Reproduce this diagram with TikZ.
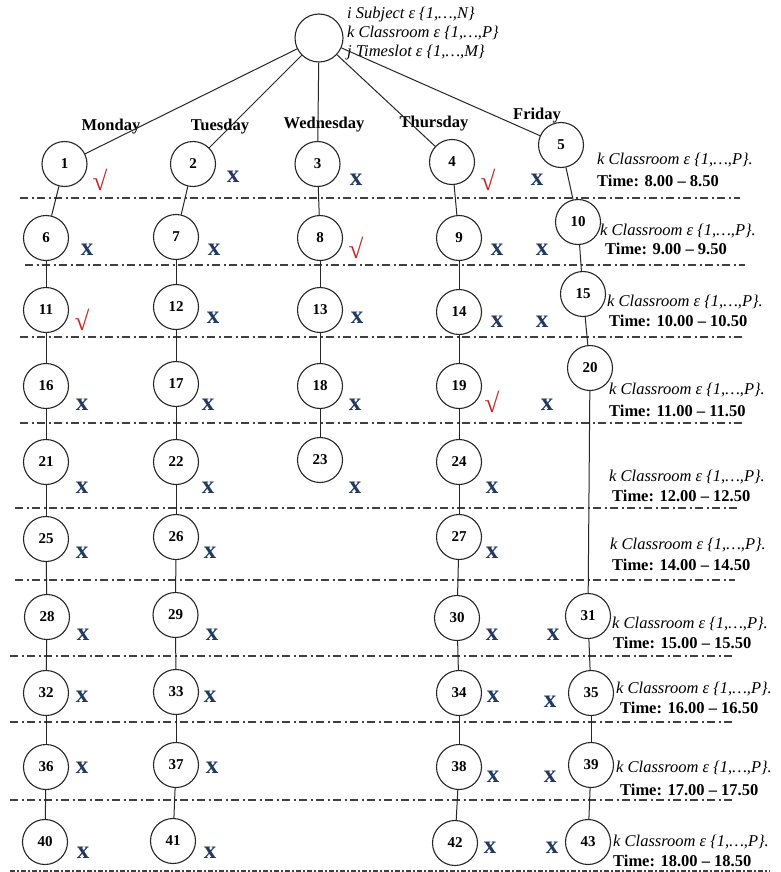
\documentclass[tikz,border=0pt]{standalone}
\usepackage{fontspec}
\setmainfont{Liberation Serif}
\definecolor{crossblue}{RGB}{34,58,98}
\definecolor{tickred}{RGB}{190,40,40}
\begin{document}
\begin{tikzpicture}[x=1pt,y=-1pt]
\tikzset{
  slot/.style={circle, draw=black!85, fill=white, line width=1.1pt, minimum size=45pt,
    inner sep=0pt, font=\fontsize{15}{15}\selectfont\bfseries},
  link/.style={line width=1pt, black!85},
  sepline/.style={line width=1.4pt, black!75, dash pattern=on 8pt off 3.5pt on 2pt off 3.5pt},
  day/.style={inner sep=0pt, font=\fontsize{16.5}{16.5}\selectfont\bfseries},
  room/.style={anchor=west, inner sep=0pt, font=\fontsize{16.5}{16.5}\selectfont\itshape},
  tlabel/.style={anchor=west, inner sep=0pt, font=\fontsize{16.5}{16.5}\selectfont\bfseries},
  cross/.style={inner sep=0pt, text=crossblue, font=\fontsize{25}{25}\selectfont\bfseries},
  tick/.style={inner sep=0pt, text=tickred, font=\fontsize{27}{27}\selectfont},
}
\useasboundingbox (0,0) rectangle (780,872);
\fill[white] (0,0) rectangle (780,872);

% time-slot separators
\foreach \y/\xa/\xb in {198/20/740, 265/25/745, 337/20/745, 423/20/742, 508/15/740,
                        580/15/735, 656/10/735, 722/10/732, 800/10/735}
  \draw[sepline] (\xa,\y) -- (\xb,\y);
\draw[line width=2pt, black!75, dash pattern=on 5pt off 2pt on 2pt off 2pt] (10,871) -- (770,871);

% root and its index sets
\node[slot, minimum size=48pt] (root) at (319,38) {};
\node[anchor=west, align=left, inner sep=0pt, font=\fontsize{16.5}{19}\selectfont\itshape]
  (vars) at (347,34) {i Subject ε \{1,…,N\}\\ k Classroom ε \{1,…,P\}\\ j Timeslot ε \{1,…,M\}};

% slot nodes
\foreach \n/\x/\y in {
   1/64.5/164, 2/193/164, 3/317.5/164, 4/452/162, 5/561/145,
   6/46/238, 7/176/237, 8/320/238, 9/459/238, 10/578/222,
   11/46/310, 12/176/307, 13/320/310, 14/459/312, 15/583/294,
   16/46/386, 17/176/384, 18/320/386, 19/459/386, 20/590/368,
   21/46/462, 22/176/462, 23/320/460, 24/459/462,
   25/46/539, 26/176/537, 27/459/537,
   28/47/617, 29/175.5/615, 30/457/618, 31/588/616,
   32/46/693, 33/176/692, 34/459/693, 35/591/693,
   36/46/767, 37/176/765, 38/459/767, 39/591/765,
   40/45/842, 41/173/841, 42/455/843, 43/588/842}
  \node[slot] (s\n) at (\x,\y) {\n};

% day names
\node[day] (mon) at (111,127) {Monday};
\node[day] (tue) at (220,127) {Tuesday};
\node[day] (wed) at (324,125) {Wednesday};
\node[day] (thu) at (434,124) {Thursday};
\node[day] (fri) at (537,116) {Friday};

% connectors
\foreach \a/\b in {root/s1, root/s2, root/s3, root/s4, root/s5,
   s1/s6, s6/s11, s11/s16, s16/s21, s21/s25, s25/s28, s28/s32, s32/s36, s36/s40,
   s2/s7, s7/s12, s12/s17, s17/s22, s22/s26, s26/s29, s29/s33, s33/s37, s37/s41,
   s3/s8, s8/s13, s13/s18, s18/s23,
   s4/s9, s9/s14, s14/s19, s19/s24, s24/s27, s27/s30, s30/s34, s34/s38, s38/s42,
   s5/s10, s10/s15, s15/s20, s20/s31, s31/s35, s35/s39, s39/s43}
  \draw[link] (\a) -- (\b);

% classroom / time labels per slot row
\foreach \kx/\ky/\tx/\ty/\t [count=\i] in {
   597/160/597/181/8.00 – 8.50,
   600/231/605/249/9.00 – 9.50,
   607/302/609/321/10.00 – 10.50,
   609/390/609/411/11.00 – 11.50,
   609/477/612/496/12.00 – 12.50,
   610/545/612/565/14.00 – 14.50,
   612/624/613/643/15.00 – 15.50,
   616/689/620/708/16.00 – 16.50,
   616/768/620/790/17.00 – 17.50,
   613/842/613/861/18.00 – 18.50}
{
  \node[room] (room\i) at (\kx,\ky) {k Classroom ε \{1,…,P\}.};
  \node[tlabel] (time\i) at (\tx,\ty) {Time: \t};
}

% accepted slots
\foreach \x/\y [count=\i] in {100/180, 488/180, 356/248, 82/320, 492/402}
  \node[tick] (ok\i) at (\x,\y) {√};

% rejected slots
\foreach \x/\y [count=\i] in {
   233/177, 356/180, 537/180,
   87/250, 214/250, 497/250, 542/250,
   213/318, 357/318, 497/322, 542/322,
   82/405, 208/405, 355/405, 547/405,
   82/488, 208/488, 355/488, 492/488,
   82/553, 210/553, 492/553,
   83/635, 212/635, 492/635, 553/635,
   82/697, 210/697, 493/697, 550/702,
   82/768, 212/768, 493/777, 550/777,
   83/853, 210/853, 490/848, 552/848}
  \node[cross] (no\i) at (\x,\y) {x};
\end{tikzpicture}
\end{document}
